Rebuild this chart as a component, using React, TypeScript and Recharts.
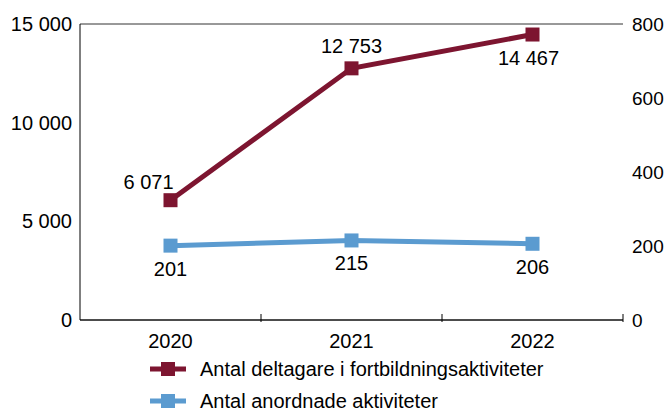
import React from 'react';
import {
  LineChart,
  Line,
  XAxis,
  YAxis,
  CartesianGrid,
  Legend,
  LabelList,
} from 'recharts';

const years = ['2020', '2021', '2022'];
const deltagare = [6071, 12753, 14467];
const aktiviteter = [201, 215, 206];
const leftTicks = [0, 5000, 10000, 15000];
const rightTicks = [0, 200, 400, 600, 800];

const RED = '#7d1530';
const BLUE = '#5b9bd0';
const FONT = '"Liberation Sans", Arial, sans-serif';

const data = years.map((year, i) => ({
  year,
  deltagare: deltagare[i],
  aktiviteter: aktiviteter[i],
}));

const fmt = (v: number) => String(v).replace(/\B(?=(\d{3})+(?!\d))/g, ' ');

const XTick = (props: any) => {
  const { x, y, payload } = props;
  const half = payload?.offset ?? 90.5;
  return (
    <g>
      <line x1={x + half} x2={x + half} y1={y} y2={y - 8} stroke="#000" strokeWidth={1} />
      <text x={x} y={y + 26} textAnchor="middle" fontSize={20} fontFamily={FONT} fill="#000">
        {payload.value}
      </text>
    </g>
  );
};

const SquareDot = (props: any) => {
  const { cx, cy, stroke } = props;
  if (cx == null || cy == null) return null;
  return <rect x={cx - 7} y={cy - 7} width={14} height={14} fill={stroke} />;
};

// label offsets per point: [dx, dy]
const redOffsets = [
  [-22, -18],
  [0, -22],
  [-4, 23],
];

const RedLabel = (props: any) => {
  const { x, y, value, index } = props;
  const [dx, dy] = redOffsets[index] ?? [0, -20];
  return (
    <text x={x + dx} y={y + dy} dy={7} textAnchor="middle" fontSize={20} fontFamily={FONT} fill="#000">
      {fmt(value)}
    </text>
  );
};

const BlueLabel = (props: any) => {
  const { x, y, value } = props;
  return (
    <text x={x} y={y + 23} dy={7} textAnchor="middle" fontSize={20} fontFamily={FONT} fill="#000">
      {value}
    </text>
  );
};

const LegendIcon = ({ color }: { color: string }) => (
  <svg width={36} height={16} style={{ display: 'block' }}>
    <line x1={0} x2={36} y1={8} y2={8} stroke={color} strokeWidth={5} />
    <rect x={11} y={1} width={14} height={14} fill={color} />
  </svg>
);

const legendItems = [
  { label: 'Antal deltagare i fortbildningsaktiviteter', color: RED },
  { label: 'Antal anordnade aktiviteter', color: BLUE },
];

const LegendContent = () => (
  <div style={{ height: 69, paddingTop: 10, boxSizing: 'border-box', fontFamily: FONT, fontSize: 20 }}>
    {legendItems.map((item) => (
      <div key={item.label} style={{ display: 'flex', alignItems: 'center', height: 32, lineHeight: '22px' }}>
        <LegendIcon color={item.color} />
        <span style={{ marginLeft: 14, color: '#000' }}>{item.label}</span>
      </div>
    ))}
  </div>
);

export default function App() {
  return (
    <div style={{ position: 'absolute', left: 0, top: 0, width: 666, height: 412, background: '#fff' }}>
      <LineChart
        width={666}
        height={412}
        data={data}
        margin={{ top: 24, right: 0, left: 0, bottom: 0 }}
      >
        <CartesianGrid vertical={false} stroke="#333" strokeWidth={1} />
        <XAxis
          dataKey="year"
          scale="band"
          height={23}
          tick={<XTick />}
          tickLine={false}
          tickSize={0}
          axisLine={{ stroke: '#000' }}
        />
        <YAxis
          yAxisId="left"
          width={80}
          domain={[0, 15000]}
          ticks={leftTicks}
          tickFormatter={fmt}
          tickLine={false}
          tickSize={0}
          tickMargin={8}
          axisLine={{ stroke: '#000' }}
          tick={{ fontSize: 20, fontFamily: FONT, fill: '#000' }}
        />
        <YAxis
          yAxisId="right"
          orientation="right"
          width={43}
          domain={[0, 800]}
          ticks={rightTicks}
          tickLine={false}
          tickSize={0}
          tickMargin={9}
          axisLine={false}
          tick={{ fontSize: 19, fontFamily: FONT, fill: '#000', textAnchor: 'start' }}
        />
        <Legend
          verticalAlign="bottom"
          content={<LegendContent />}
          wrapperStyle={{ left: 150, width: 500 }}
        />
        <Line
          yAxisId="left"
          dataKey="deltagare"
          stroke={RED}
          strokeWidth={5}
          dot={<SquareDot />}
          activeDot={false}
          isAnimationActive={false}
        >
          <LabelList dataKey="deltagare" content={<RedLabel />} />
        </Line>
        <Line
          yAxisId="right"
          dataKey="aktiviteter"
          stroke={BLUE}
          strokeWidth={5}
          dot={<SquareDot />}
          activeDot={false}
          isAnimationActive={false}
        >
          <LabelList dataKey="aktiviteter" content={<BlueLabel />} />
        </Line>
      </LineChart>
    </div>
  );
}
